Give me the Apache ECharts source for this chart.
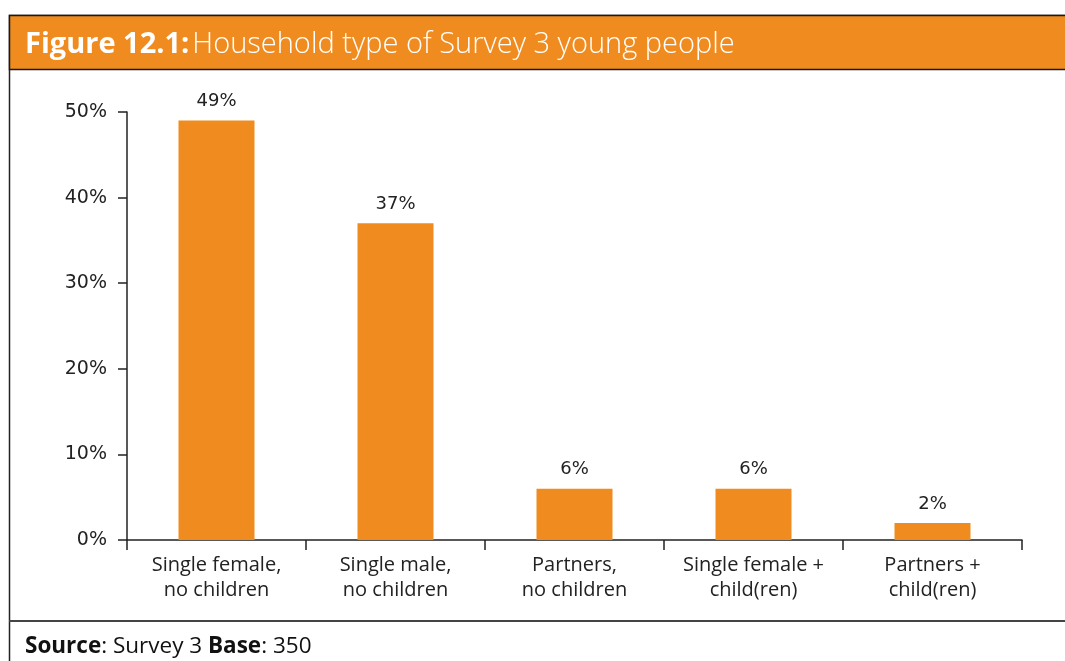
<!DOCTYPE html>
<html><head><meta charset="utf-8">
<script src="https://cdn.jsdelivr.net/npm/echarts@6/dist/echarts.min.js"></script>
<style>html,body{margin:0;padding:0;background:#fff}#c{width:1065px;height:661px}</style>
</head><body><div id="c"></div>
<script>
var categories = ['Single female,\nno children', 'Single male,\nno children', 'Partners,\nno children', 'Single female +\nchild(ren)', 'Partners +\nchild(ren)'];
var values = [49, 37, 6, 6, 2];
var yTicks = [0, 10, 20, 30, 40, 50];

var FONT = '"Open Sans", "Noto Sans", sans-serif';
var NUMFONT = '"DejaVu Sans", "Open Sans", sans-serif';
var chart = echarts.init(document.getElementById('c'), null, {renderer: 'canvas'});
chart.setOption({
  animation: false,
  backgroundColor: '#fff',
  grid: {left: 127, right: 43, top: 112, bottom: 121, containLabel: false},
  xAxis: {
    type: 'category', data: categories,
    axisLine: {show: true, lineStyle: {color: '#222', width: 1.5}},
    axisTick: {show: true, length: 10, lineStyle: {color: '#222', width: 1.5}},
    axisLabel: {color: '#222', fontSize: 20, fontFamily: FONT, lineHeight: 25, margin: 13, interval: 0}
  },
  yAxis: {
    type: 'value', min: 0, max: 50, interval: 10,
    splitLine: {show: false},
    axisLine: {show: true, lineStyle: {color: '#222', width: 1.5}},
    axisTick: {show: true, length: 9, lineStyle: {color: '#222', width: 1.5}},
    axisLabel: {color: '#222', fontSize: 19, fontFamily: NUMFONT, margin: 20,
      formatter: function (v) { return yTicks.indexOf(v) >= 0 ? v + '%' : ''; }}
  },
  series: [{
    type: 'bar', data: values, barWidth: 76,
    itemStyle: {color: '#F08C1F'},
    label: {show: true, position: 'top', distance: 10, color: '#222', fontSize: 18, fontFamily: NUMFONT,
      formatter: '{c}%'}
  }],
  graphic: [
    {type: 'rect', z: 0, shape: {x: 9.5, y: 15.5, width: 1100, height: 700}, style: {fill: 'none', stroke: '#222', lineWidth: 1.5}},
    {type: 'rect', z: 1, shape: {x: 9.5, y: 15.5, width: 1100, height: 54}, style: {fill: '#F08C1F', stroke: '#1a1a1a', lineWidth: 1.5}},
    {type: 'line', z: 1, shape: {x1: 9, y1: 621, x2: 1065, y2: 621}, style: {stroke: '#444', lineWidth: 2}},
    {type: 'text', z: 2, left: 25, top: 30, style: {
      text: '{b|Figure 12.1:}{n|Household type of Survey 3 young people}',
      rich: {
        b: {fontFamily: FONT, fontSize: 29, fontWeight: 'bold', fill: '#fff'},
        n: {fontFamily: FONT, fontSize: 29, fontWeight: 300, fill: '#fff', padding: [0, 0, 0, 3]}
      }}},
    {type: 'text', z: 2, left: 25, top: 635, style: {
      text: '{b|Source}{n|: Survey 3 }{b|Base}{n|: 350}',
      rich: {
        b: {fontFamily: FONT, fontSize: 22.5, fontWeight: 'bold', fill: '#111'},
        n: {fontFamily: FONT, fontSize: 22.5, fill: '#111'}
      }}}
  ]
});
</script></body></html>
